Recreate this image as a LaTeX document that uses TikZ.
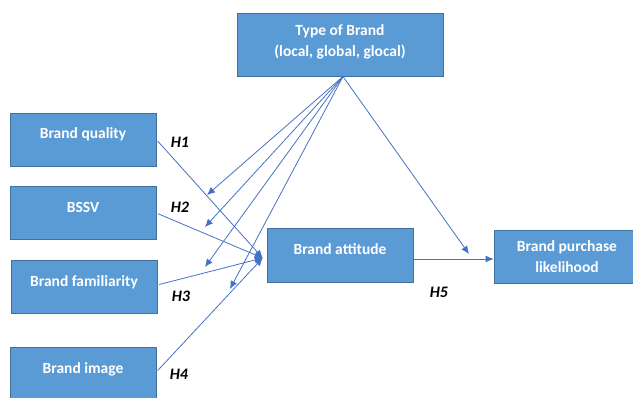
\documentclass[tikz,border=0pt]{standalone}
\usepackage{fontspec}
\setmainfont{Carlito}
\usepackage{tikz}
\usetikzlibrary{arrows,arrows.meta}
\usepackage{xcolor}
\definecolor{boxblue}{HTML}{5B9BD5}
\definecolor{boxline}{HTML}{41719C}
\definecolor{arrowblue}{HTML}{4472C4}

\begin{document}
\begin{tikzpicture}[x=1pt,y=-1pt]
    \tikzset{construct/.style = {shape=rectangle, draw=boxline, line width=0.6pt, fill=boxblue, text=white, font=\fontsize{15.5}{22}\selectfont\bfseries, align=center, minimum width=146pt, minimum height=53pt, inner sep=0pt, text height=11pt, text depth=13pt}}
    \tikzset{twoline/.style = {font=\fontsize{15.5}{21.5}\selectfont\bfseries, text height=32.5pt}}
    \tikzset{link/.style = {draw=arrowblue, line width=0.8pt, -{Latex[length=8pt,width=7pt]}}}
    \tikzset{hyp/.style = {font=\fontsize{16}{18}\selectfont\bfseries\itshape, inner sep=0pt}}

    \useasboundingbox (0,0) rectangle (633,397);

    % vertices
    \node[construct, twoline, minimum width=206pt, minimum height=63pt, text depth=8.5pt] (ty) at (340,44.7) {Type of Brand\\(local, global, glocal)};
    \node[construct] (bq) at (83,139.5) {Brand quality};
    \node[construct] (bs) at (83,213) {BSSV};
    \node[construct] (bf) at (84,287) {Brand familiarity};
    \node[construct] (bi) at (83,374) {Brand image};
    \node[construct, minimum height=54pt] (ba) at (340,255) {Brand attitude};
    \node[construct, twoline, text depth=0.5pt] (bp) at (567,256.7) {Brand purchase\\likelihood};

    % free ends
    \coordinate (ba-in) at ([xshift=-4,yshift=-3]ba.west);
    \coordinate (m1) at (207,195);
    \coordinate (m2) at (205,227);
    \coordinate (m3) at (205,267);
    \coordinate (m4) at (230,289);
    \coordinate (m5) at (469,254);

    % edges
    \draw[link, shorten <=2pt] (bq.east) -- (ba-in);
    \draw[link, shorten <=2pt] (bs.east) -- (ba-in);
    \draw[link, shorten <=2pt] ([yshift=2]bf.east) -- (ba-in);
    \draw[link, shorten <=2pt] ([yshift=2]bi.east) -- (ba-in);
    \draw[link] ([yshift=-4]ba.east) -- ([yshift=-4]ba.east -| bp.west);
    \foreach \m in {m1,m2,m3,m4,m5}
        \draw[link] ([xshift=3]ty.south) -- (\m);

    % labels
    \node[hyp] (h1) at (180,142.5) {H1};
    \node[hyp] (h2) at (180,207) {H2};
    \node[hyp] (h3) at (181,296) {H3};
    \node[hyp] (h4) at (179,374) {H4};
    \node[hyp] (h5) at (439,292) {H5};
\end{tikzpicture}
\end{document}
